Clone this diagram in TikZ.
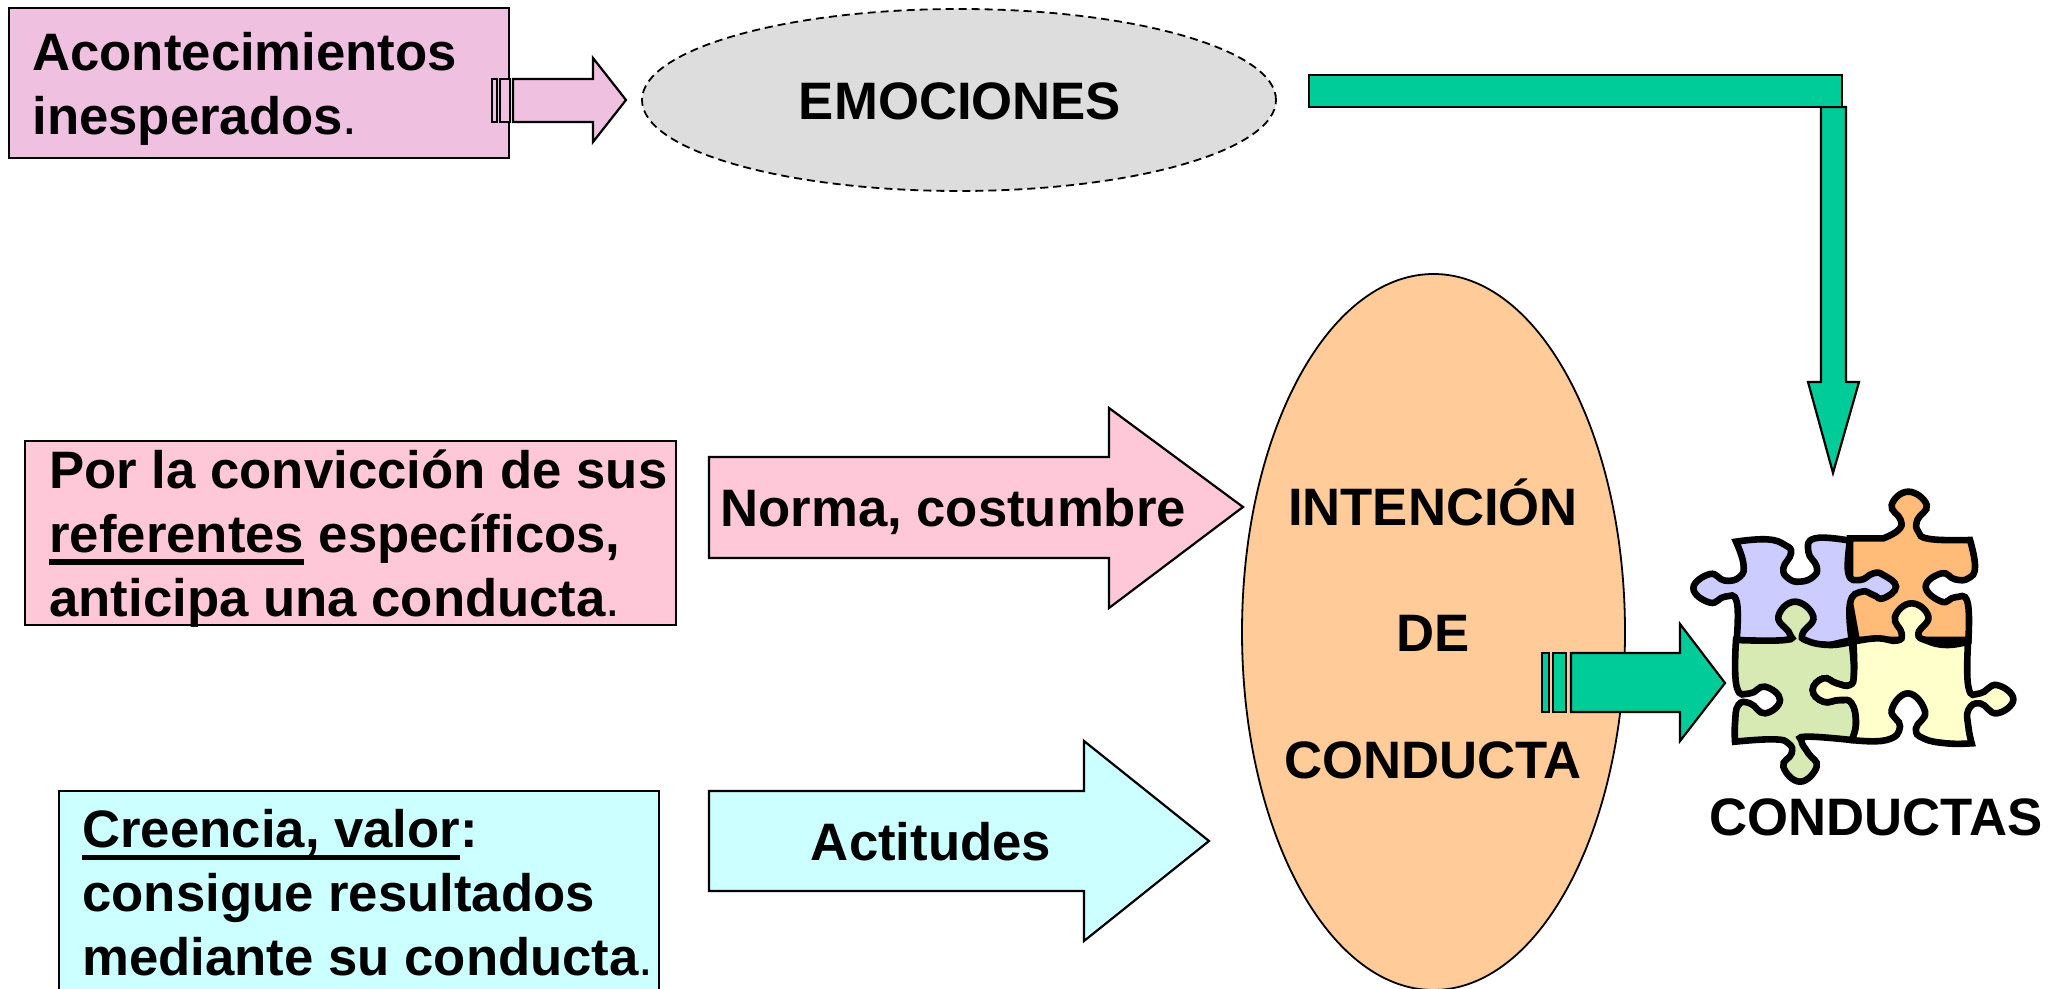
\documentclass[tikz,border=0pt]{standalone}
\usepackage{fontspec}
\setmainfont{Liberation Sans}
\usetikzlibrary{shapes.geometric}
\definecolor{cmauve}{HTML}{EFC0E0}
\definecolor{cpink}{HTML}{FFC8D8}
\definecolor{ccyan}{HTML}{CCFFFF}
\definecolor{cgrey}{HTML}{DDDDDD}
\definecolor{cpeach}{HTML}{FFCC99}
\definecolor{cgreen}{HTML}{00CC99}
\definecolor{pblue}{HTML}{CCCCFF}
\definecolor{porange}{HTML}{FFBB77}
\definecolor{pgreen}{HTML}{D8EAB4}
\definecolor{pyellow}{HTML}{FFFFCC}
\newcommand{\firstline}{\rule{0pt}{20pt}}
\newcommand{\thinperiod}{{\mdseries .}}
\newsavebox{\ulbox}
\newcommand{\thickul}[1]{\sbox{\ulbox}{#1}\rlap{\rule[-6.1pt]{\wd\ulbox}{2.8pt}}\usebox{\ulbox}}
\tikzset{
  boxshape/.style={draw=black,line width=1.1pt,inner sep=0pt,outer sep=0pt,anchor=north west},
  label/.style={font=\fontsize{26.35}{32}\selectfont\bfseries,inner sep=0pt,text=black},
  leftlabel/.style={label,align=left,anchor=north west},
  oval/.style={ellipse,draw=black,line width=0.9pt,inner sep=0pt,outer sep=0pt},
  blockarrow/.style={draw=black,line width=1.1pt,miter limit=10},
  piece/.style={draw=black,line width=3.3pt,line join=miter},
  curve/.style={smooth,tension=0.8}
}
\begin{document}
\begin{tikzpicture}[x=0.5pt,y=-0.5pt]
\useasboundingbox (0,0) rectangle (2067,989);
\clip (0,0) rectangle (2067,989);
% boxes
\node[boxshape,fill=cmauve,minimum width=250pt,minimum height=75pt] (box1) at (9,8) {};
\node[boxshape,fill=cpink,minimum width=325.5pt,minimum height=92pt] (box2) at (25,441) {};
\node[boxshape,fill=ccyan,minimum width=300pt,minimum height=102pt] (box3) at (59,791) {};
% ovals
\node[oval,dash pattern=on 4pt off 2.5pt,fill=cgrey,minimum width=317pt,minimum height=91pt] (emo) at (959,100) {};
\node[oval,fill=cpeach,minimum width=191.5pt,minimum height=358pt] (inten) at (1433.5,632) {};
% mauve arrow
\path[blockarrow,fill=cmauve] (492,79) rectangle (497,122);
\path[blockarrow,fill=cmauve] (500,79) rectangle (510,122);
\path[blockarrow,fill=cmauve] (513,79) -- (593,79) -- (593,58) -- (626,100) -- (593,142) -- (593,122) -- (513,122) -- cycle;
% green elbow
\path[blockarrow,fill=cgreen] (1821,107) -- (1846,107) -- (1846,382) -- (1859,382) -- (1833,473) -- (1808,382) -- (1821,382) -- cycle;
\path[blockarrow,fill=cgreen] (1309,75) rectangle (1842,107);
% pink, cyan arrows
\path[blockarrow,fill=cpink] (709,457) -- (1109,457) -- (1109,408) -- (1243,507) -- (1109,608) -- (1109,558) -- (709,558) -- cycle;
\path[blockarrow,fill=ccyan] (709,791) -- (1084,791) -- (1084,741) -- (1209,841) -- (1084,941) -- (1084,891) -- (709,891) -- cycle;
% green arrow
\path[blockarrow,fill=cgreen] (1542,653) rectangle (1549,712);
\path[blockarrow,fill=cgreen] (1553,653) rectangle (1566,712);
\path[blockarrow,fill=cgreen] (1571,653) -- (1680,653) -- (1680,624) -- (1725,683) -- (1680,741) -- (1680,712) -- (1571,712) -- cycle;
% puzzle
\begin{scope}[shift={(1660,470)},x=0.166667pt,y=-0.166667pt]
\path[piece,fill=porange] (570,205) -- (670,205)
  -- plot[curve] coordinates {(670,205) (715,180) (722,150) (695,105) (745,65) (800,105) (772,150) (775,185) (810,207) (930,210)}
  -- plot[curve] coordinates {(930,210) (945,290) (925,325) (885,328) (845,310) (797,350) (845,395) (885,382) (922,395) (925,510)}
  -- (590,510) -- (570,400) -- cycle;
\path[piece,fill=pblue] (228,215)
  -- plot[curve] coordinates {(228,215) (320,208) (375,225) (393,250) (370,295) (385,325) (420,335) (460,320) (470,290) (445,245) (465,205) (570,212)}
  -- plot[curve] coordinates {(570,212) (565,310) (600,330) (640,310) (670,315) (708,350) (670,385) (640,375) (605,365) (570,400) (575,510)}
  -- (510,525) -- (230,510)
  -- plot[curve] coordinates {(230,510) (230,395) (195,380) (150,398) (100,355) (150,312) (195,332) (240,320) (250,280) (228,215)}
  -- cycle;
\path[piece,fill=pgreen] (228,510)
  -- plot[curve] coordinates {(228,510) (375,510) (388,490) (355,440) (405,395) (460,440) (428,490) (440,512) (510,525) (575,515)}
  -- plot[curve] coordinates {(575,515) (582,610) (570,645) (530,640) (490,625) (458,660) (490,695) (540,690) (575,700) (588,760) (575,810)}
  -- plot[curve] coordinates {(575,810) (440,800) (425,815) (445,850) (470,890) (420,935) (370,890) (395,850) (385,820) (340,808) (225,815)}
  -- plot[curve] coordinates {(225,815) (225,760) (235,705) (270,700) (315,730) (360,690) (315,650) (270,670) (230,650) (228,510)}
  -- cycle;
\path[piece,fill=pyellow] (580,515)
  -- plot[curve] coordinates {(580,515) (650,505) (710,512) (725,490) (705,440) (755,400) (805,440) (775,490) (800,512) (860,525) (925,515)}
  -- plot[curve] coordinates {(925,500) (925,650) (960,670) (1010,645) (1060,688) (1010,730) (960,700) (925,720) (925,770) (935,820)}
  -- plot[curve] coordinates {(935,820) (860,820) (790,805) (768,775) (795,725) (745,670) (695,720) (720,770) (680,810) (575,810)}
  -- plot[curve] coordinates {(575,810) (588,760) (575,700) (540,690) (490,695) (458,660) (490,625) (530,640) (570,645) (582,610) (580,515)}
  -- cycle;
\end{scope}
% texts
\node[leftlabel] (t1) at (32,30) {\firstline Acontecimientos\\inesperados\thinperiod};
\node[leftlabel] (t2) at (49,448) {\firstline Por la convicción de sus\\\thickul{referentes} específicos,\\anticipa una conducta\thinperiod};
\node[leftlabel] (t3) at (82,807.5) {\firstline\thickul{Creencia, valor}:\\consigue resultados\\mediante su conducta\thinperiod};
\node[label,anchor=base] (temo) at (960,120) {EMOCIONES};
\node[label,anchor=base west] (tnorma) at (720,526) {Norma, costumbre};
\node[label,anchor=base] (tact) at (931,860) {Actitudes};
\node[label,anchor=base] (ti1) at (1433,525) {INTENCIÓN};
\node[label,anchor=base] (ti2) at (1433,651) {DE};
\node[label,anchor=base] (ti3) at (1433,778) {CONDUCTA};
\node[label,anchor=base] (tcon) at (1876,835) {CONDUCTAS};
\end{tikzpicture}
\end{document}
